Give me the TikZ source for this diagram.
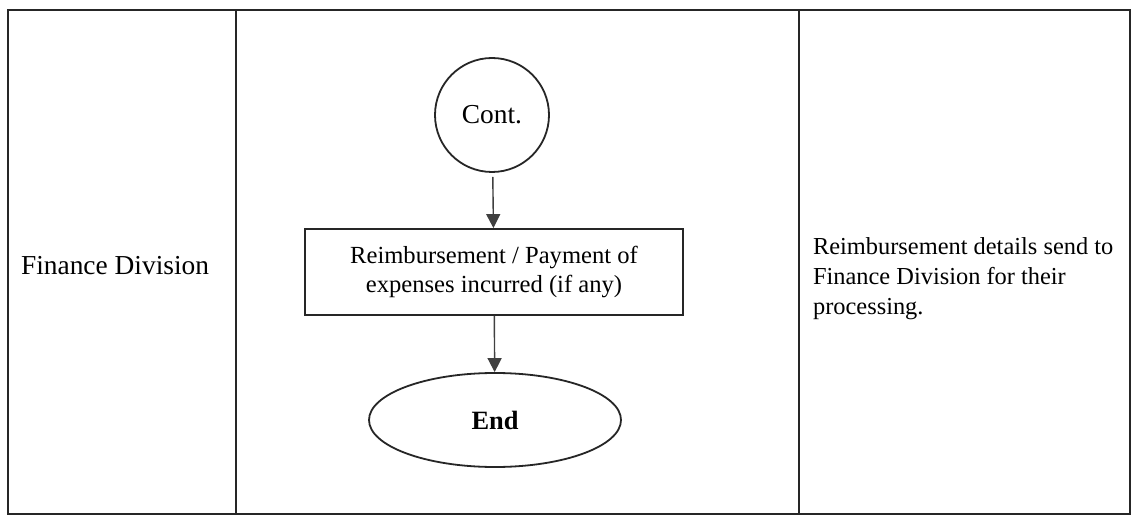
\documentclass[tikz,border=0pt]{standalone}
\usepackage{fontspec}
\setmainfont{Liberation Serif}
\usetikzlibrary{shapes.geometric,arrows.meta}

\tikzset{
    flowline/.style={draw=black!85, line width=0.9pt},
    flowarrow/.style={draw=black!75, line width=0.7pt, -{Triangle[length=7pt,width=7pt]}},
    celltext/.style={align=left, font=\fontsize{13.7}{15.5}\selectfont},
    smalltext/.style={font=\fontsize{12.3}{14.5}\selectfont},
}

\begin{document}
\begin{tikzpicture}[x=0.5pt, y=-0.5pt]
    \useasboundingbox (0,0) rectangle (1134,518);
    \fill[white] (0,0) rectangle (1134,518);
    % table
    \draw[flowline] (8,10) rectangle (1130,514);
    \draw[flowline] (236,10) -- (236,514);
    \draw[flowline] (799,10) -- (799,514);
    % cells
    \node[celltext, anchor=west] at (14,266) (division) {Finance Division};
    \node[celltext, anchor=north west, font=\fontsize{12.2}{15}\selectfont] at (806,231) (remark) {Reimbursement details send to\\Finance Division for their\\processing.};
    % flow
    \node[flowline, circle, minimum size=57pt, inner sep=0pt, font=\fontsize{13.7}{15.5}\selectfont] at (492,115) (cont) {Cont.};
    \node[flowline, rectangle, minimum width=189pt, minimum height=43pt, align=center, smalltext] at (494,272) (pay) {\raisebox{-1.5pt}{\parbox{180pt}{\centering Reimbursement / Payment of\\expenses incurred (if any)}}};
    \node[flowline, ellipse, minimum width=126pt, minimum height=47pt, inner sep=0pt, font=\fontsize{13.2}{15.5}\selectfont\bfseries] at (495,420) (end) {End};
    \draw [flowarrow, shorten <=2pt] (cont) -- (pay);
    \draw [flowarrow] (pay) -- (end);
\end{tikzpicture}
\end{document}
